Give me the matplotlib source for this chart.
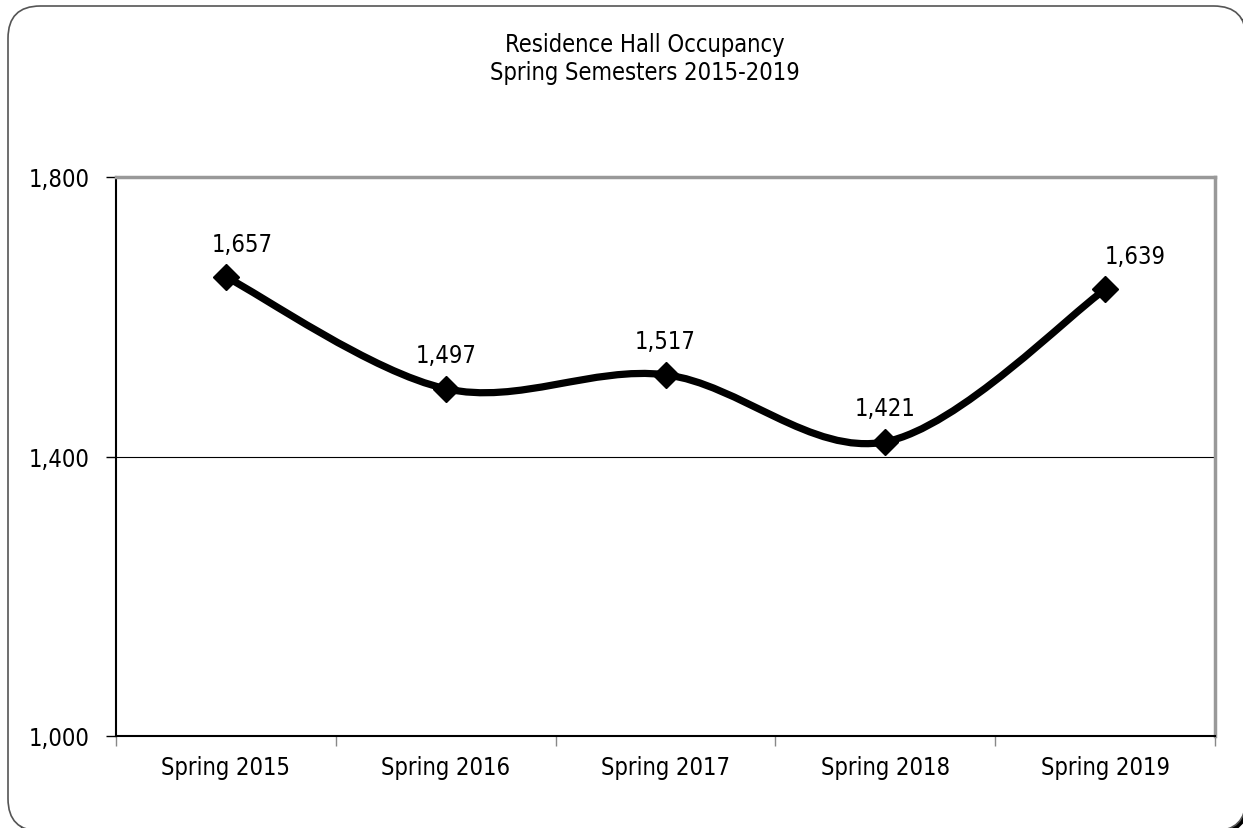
import matplotlib
matplotlib.use("Agg")
import matplotlib.pyplot as plt
from matplotlib import font_manager as fm
from matplotlib.patches import FancyBboxPatch, PathPatch
from matplotlib.path import Path
from matplotlib.ticker import FuncFormatter, FixedLocator
import numpy as np

categories = ["Spring 2015", "Spring 2016", "Spring 2017", "Spring 2018", "Spring 2019"]
occupancy = [1657, 1497, 1517, 1421, 1639]
title_lines = ["Residence Hall Occupancy", "Spring Semesters 2015-2019"]
y_ticks = [1000, 1400, 1800]

# find a narrow/condensed font if one is installed
def find_narrow():
    cands = []
    for f in fm.fontManager.ttflist:
        nm = f.name.lower()
        fn = f.fname.lower()
        st = f.stretch
        is_narrow = ('narrow' in nm or 'condensed' in nm or 'narrow' in fn or
                     'condensed' in fn or st in ('condensed', 'semi-condensed', 'extra-condensed', 'ultra-condensed')
                     or (isinstance(st, int) and st < 500))
        if not is_narrow:
            continue
        if 'italic' in fn or 'oblique' in fn or f.style != 'normal':
            continue
        if 'extra' in fn or 'ultra' in fn or 'semi' in fn:
            pri = 3
        else:
            pri = 0
        if 'bold' in fn or 'black' in fn or 'light' in fn or 'thin' in fn or 'medium' in fn:
            pri += 2
        if 'liberation' in nm or 'arial' in nm:
            pri -= 1
        if 'cjk' in nm or 'mono' in nm:
            pri += 5
        cands.append((pri, f.fname))
    cands.sort()
    return cands[0][1] if cands else None

narrow = find_narrow()
if narrow:
    def FP(size):
        return fm.FontProperties(fname=narrow, size=size)
    fs = 17
else:
    def FP(size):
        return fm.FontProperties(family='DejaVu Sans', size=size)
    fs = 15.5

W, H = 1243, 829
fig = plt.figure(figsize=(W / 100, H / 100), dpi=100)

def px_box(x0, y0, x1, y1):
    return (x0 / W, 1 - y1 / H, (x1 - x0) / W, (y1 - y0) / H)

bx, by, bw, bh = px_box(8, 7, 1246, 832)
shadow = FancyBboxPatch((bx + 3 / W, by - 3 / H), bw, bh,
                        boxstyle="round,pad=0,rounding_size=0.026",
                        transform=fig.transFigure, facecolor='black',
                        edgecolor='none', mutation_aspect=W / H, zorder=0)
frame = FancyBboxPatch((bx, by), bw, bh,
                       boxstyle="round,pad=0,rounding_size=0.026",
                       transform=fig.transFigure, facecolor='white',
                       edgecolor='#555555', linewidth=1.2,
                       mutation_aspect=W / H, zorder=1)
fig.patches.extend([shadow, frame])

ax = fig.add_axes([116 / W, 1 - 737 / H, (1215 - 116) / W, (737 - 178) / H])
ax.set_zorder(2)
ax.patch.set_alpha(0)

x = np.arange(len(categories))
y = np.array(occupancy, dtype=float)

# smoothed line (Catmull-Rom style Bezier, like spreadsheet "smoothed line")
pts = np.column_stack([x, y])
verts = [pts[0]]
codes = [Path.MOVETO]
n = len(pts)
for i in range(n - 1):
    p_prev = pts[i - 1] if i > 0 else pts[i]
    p0 = pts[i]
    p1 = pts[i + 1]
    p_next = pts[i + 2] if i + 2 < n else pts[i + 1]
    c1 = p0 + (p1 - p_prev) / 6.0
    c2 = p1 - (p_next - p0) / 6.0
    verts += [c1, c2, p1]
    codes += [Path.CURVE4] * 3
ax.add_patch(PathPatch(Path(verts, codes), facecolor='none', edgecolor='black',
                       linewidth=5.2, capstyle='round', joinstyle='round', zorder=3))
ax.plot(x, y, linestyle='none', marker='D', markersize=13, color='black', zorder=4)

label_dx = [12, 0, 0, 0, 22]
for xi, yi, dx in zip(x, y, label_dx):
    ax.annotate(f"{int(yi):,}", (xi, yi), xytext=(dx, 24), textcoords='offset points',
                ha='center', va='center', fontproperties=FP(fs), zorder=5)

ax.set_xlim(-0.5, len(categories) - 0.5)
ax.set_ylim(1000, 1800)
ax.yaxis.set_major_locator(FixedLocator(y_ticks))
ax.yaxis.set_major_formatter(FuncFormatter(lambda v, p: f"{int(v):,}"))
ax.set_xticks(x)
ax.set_xticklabels(categories)
ax.set_xticks(np.arange(-0.5, len(categories)), minor=True)
ax.tick_params(axis='x', which='major', length=0, pad=14)
ax.tick_params(axis='x', which='minor', length=7, color='#888888', width=1)
ax.tick_params(axis='y', which='major', length=7, width=1, pad=12)
for lab in ax.get_xticklabels() + ax.get_yticklabels():
    lab.set_fontproperties(FP(fs))

ax.grid(axis='y', color='black', linewidth=0.8)
ax.set_axisbelow(True)
ax.spines['left'].set_color('black')
ax.spines['left'].set_linewidth(1.5)
ax.spines['bottom'].set_color('black')
ax.spines['bottom'].set_linewidth(1.5)
ax.spines['top'].set_color('#999999')
ax.spines['top'].set_linewidth(2.5)
ax.spines['right'].set_color('#999999')
ax.spines['right'].set_linewidth(2.5)

fig.text(645 / W, 1 - 45 / H, title_lines[0], ha='center', va='center', fontproperties=FP(fs), zorder=5)
fig.text(645 / W, 1 - 73 / H, title_lines[1], ha='center', va='center', fontproperties=FP(fs), zorder=5)

fig.savefig("out.png", dpi=100)
